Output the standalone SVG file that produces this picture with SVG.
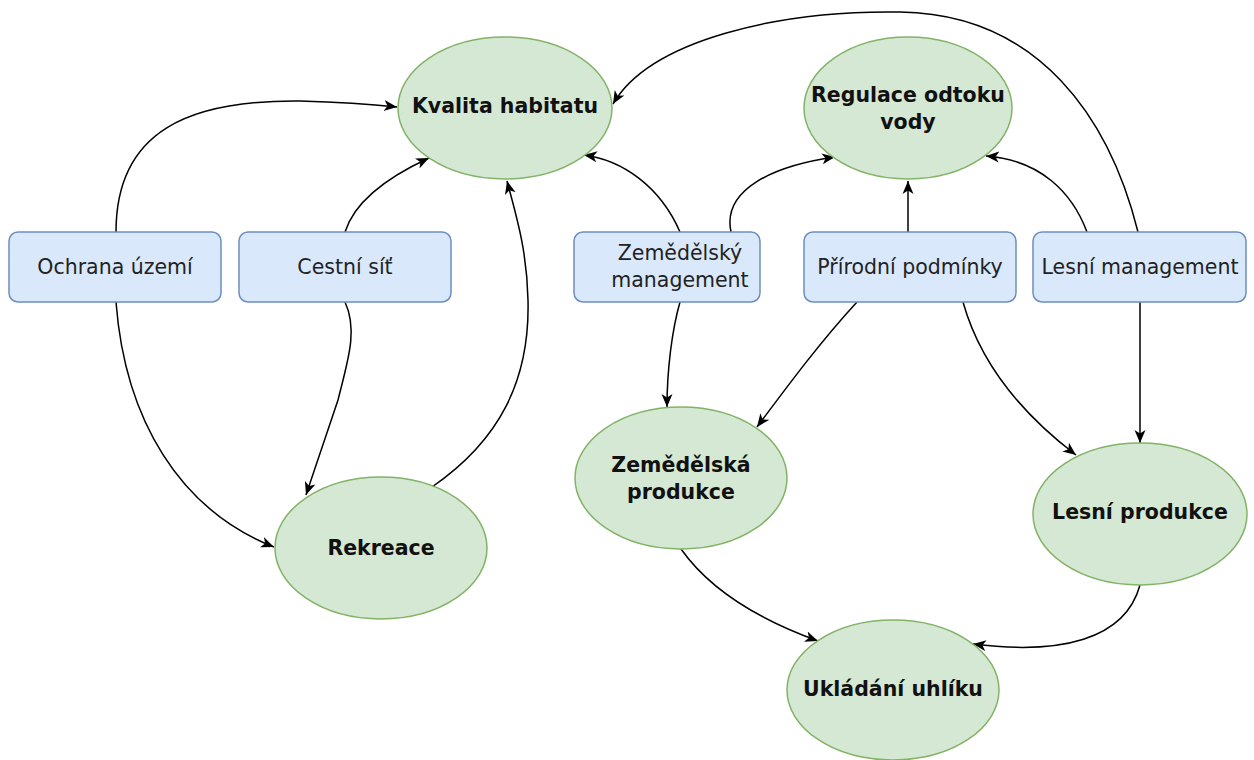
<svg xmlns="http://www.w3.org/2000/svg" width="1254" height="760" viewBox="0 0 1254 760">
<defs>
<marker id="arr" markerWidth="14" markerHeight="12" refX="13" refY="6" orient="auto" markerUnits="userSpaceOnUse">
<path d="M0,0.5 L13,6 L0,11.5 L3.5,6 Z" fill="#000"/>
</marker>
<style>
.ell{fill:#d5e8d4;stroke:#82b366;stroke-width:1.5}
.box{fill:#dae8fc;stroke:#6c8ebf;stroke-width:1.5}
.t{font-family:"DejaVu Sans",Verdana,sans-serif;font-size:20.5px;fill:#222;text-anchor:middle;dominant-baseline:central}
.b{font-weight:bold;fill:#111}
.c{fill:none;stroke:#000;stroke-width:1.5;marker-end:url(#arr)}
</style>
</defs>
<rect width="1254" height="760" fill="#fff"/>
<g id="connectors">
<path class="c" d="M116,232 C116,130 190,100 300,101 C340,102 370,104 397,107"/>
<path class="c" d="M345,232 C355,200 390,176 429,158"/>
<path class="c" d="M432,487 C500,440 530,380 528,300 C527,250 516,215 507,181"/>
<path class="c" d="M116,302 C125,420 180,510 274,547"/>
<path class="c" d="M345,302 C358,330 348,360 338,400 L306,495"/>
<path class="c" d="M680,232 C660,186 622,160 584,155"/>
<path class="c" d="M731,232 C722,190 772,166 835,157"/>
<path class="c" d="M908,232 L908,181"/>
<path class="c" d="M1087,232 C1072,192 1040,160 986,156"/>
<path class="c" d="M1138,232 C1110,120 1040,14 900,12 C780,10 650,40 613,104"/>
<path class="c" d="M680,302 C672,330 667,370 667,407"/>
<path class="c" d="M857,302 C822,340 792,380 757,427"/>
<path class="c" d="M963,302 C982,370 1030,420 1076,455"/>
<path class="c" d="M1140,302 L1140,443"/>
<path class="c" d="M681,549 C710,590 760,620 818,641"/>
<path class="c" d="M1140,585 C1125,640 1060,655 973,644"/>
</g>
<g id="kvalita"><ellipse class="ell" cx="505" cy="108" rx="107" ry="71"/><text class="t b" x="505" y="106">Kvalita habitatu</text></g>
<g id="regulace"><ellipse class="ell" cx="908" cy="108" rx="104" ry="71"/><text class="t b" x="908" y="95">Regulace odtoku</text><text class="t b" x="908" y="122">vody</text></g>
<g id="ochrana"><rect class="box" x="9" y="232" width="212" height="70" rx="9"/><text class="t" x="115" y="267">Ochrana území</text></g>
<g id="cestni"><rect class="box" x="239" y="232" width="212" height="70" rx="9"/><text class="t" x="345" y="267">Cestní síť</text></g>
<g id="zemmgmt"><rect class="box" x="574" y="232" width="186" height="70" rx="9"/><text class="t" x="680" y="253">Zemědělský</text><text class="t" x="680" y="280">management</text></g>
<g id="prirodni"><rect class="box" x="804" y="232" width="212" height="70" rx="9"/><text class="t" x="910" y="267">Přírodní podmínky</text></g>
<g id="lesmgmt"><rect class="box" x="1033" y="232" width="213" height="70" rx="9"/><text class="t" x="1140" y="267">Lesní management</text></g>
<g id="rekreace"><ellipse class="ell" cx="381" cy="548" rx="106" ry="71"/><text class="t b" x="381" y="548">Rekreace</text></g>
<g id="zemprod"><ellipse class="ell" cx="681" cy="478" rx="106" ry="71"/><text class="t b" x="681" y="465">Zemědělská</text><text class="t b" x="681" y="492">produkce</text></g>
<g id="lesprod"><ellipse class="ell" cx="1140" cy="514" rx="107" ry="71"/><text class="t b" x="1140" y="512">Lesní produkce</text></g>
<g id="ukladani"><ellipse class="ell" cx="893" cy="690" rx="106" ry="70"/><text class="t b" x="893" y="689">Ukládání uhlíku</text></g>
</svg>
